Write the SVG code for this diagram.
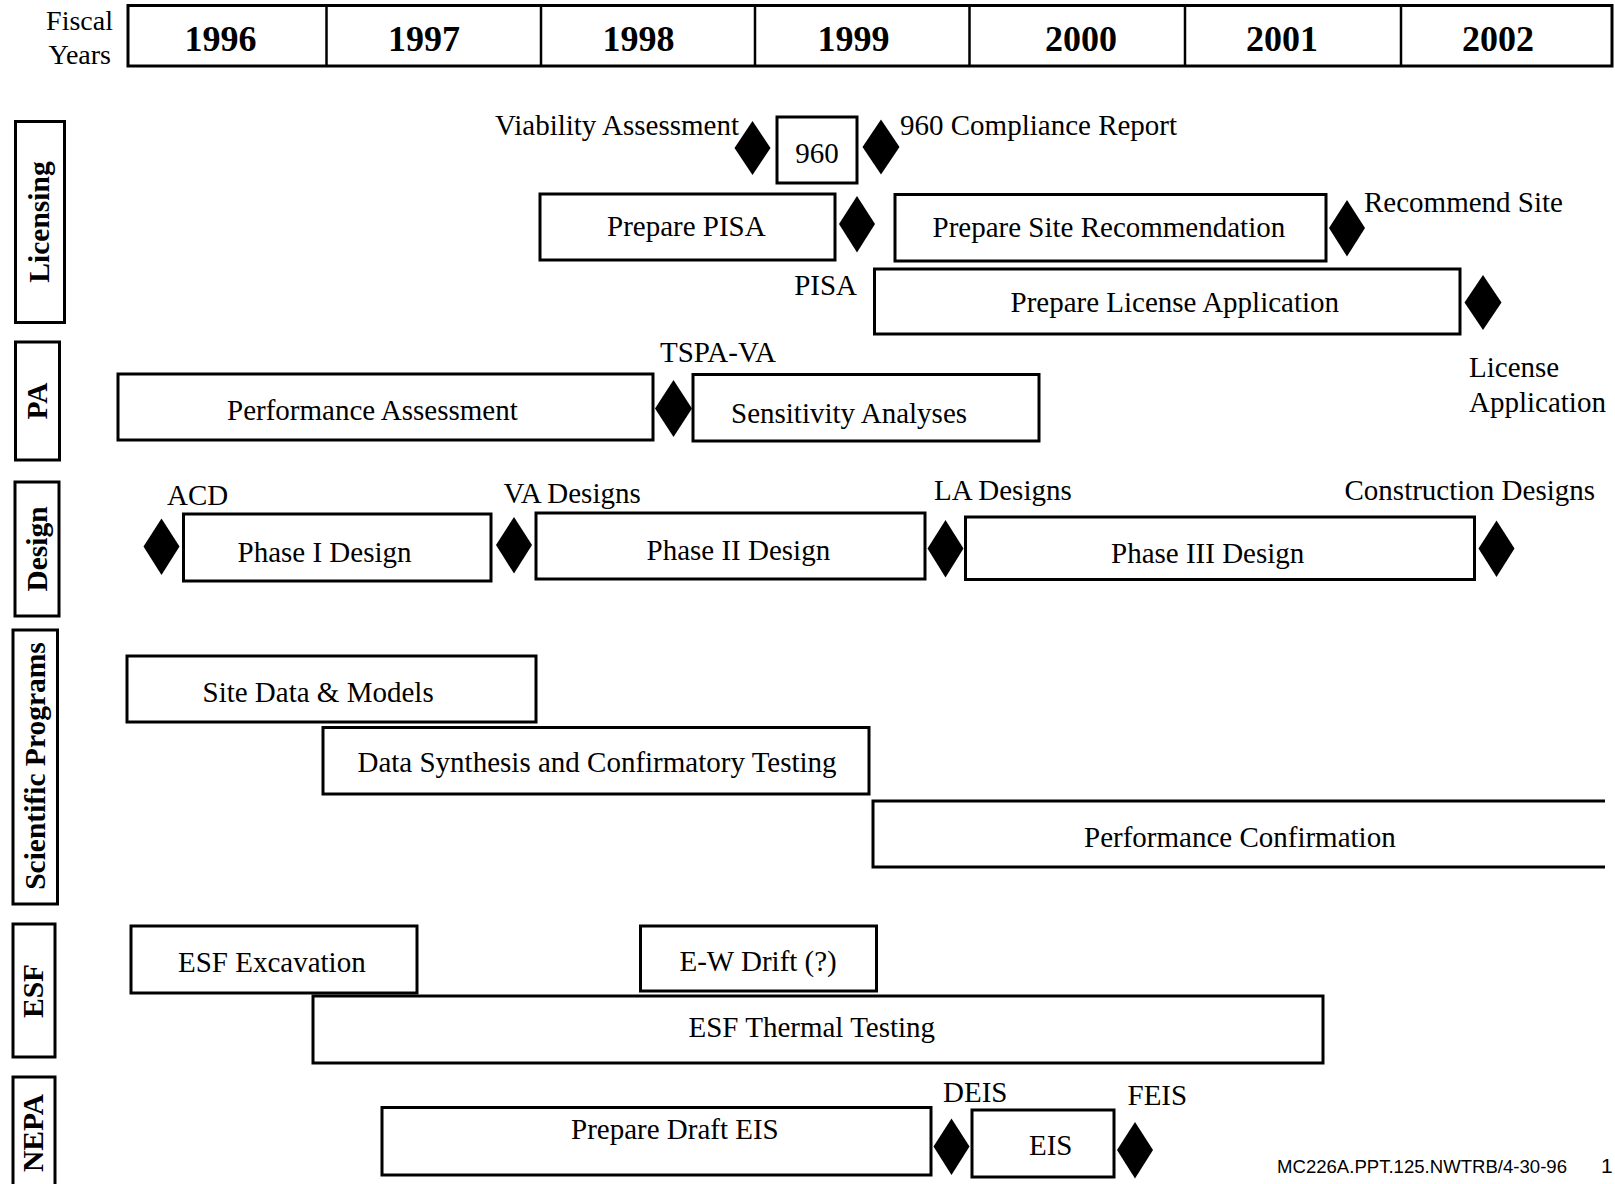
<svg xmlns="http://www.w3.org/2000/svg" width="1615" height="1184" viewBox="0 0 1615 1184">
<style>
  .bar { fill: #fff; stroke: #000; stroke-width: 3; }
  .lane { fill: #fff; stroke: #000; stroke-width: 3; }
  .ms { fill: #000; stroke: none; }
  .t { font-family: "Liberation Serif", "Times New Roman", serif; font-size: 29px; fill: #000; }
  .yr { font-family: "Liberation Serif", "Times New Roman", serif; font-size: 36px; font-weight: bold; fill: #000; text-anchor: middle; }
  .lt { font-family: "Liberation Serif", "Times New Roman", serif; font-size: 29.5px; font-weight: bold; fill: #000; text-anchor: middle; }
  .ft { font-family: "Liberation Sans", Arial, sans-serif; font-size: 18px; fill: #000; }
</style>
<rect x="0" y="0" width="1615" height="1184" fill="#fff"/>

<g id="header">
  <text class="t" x="113" y="30" text-anchor="end" style="font-size:28px">Fiscal</text>
  <text class="t" x="111" y="64" text-anchor="end" style="font-size:28px">Years</text>
  <rect x="128" y="5.5" width="1484" height="60.5" fill="#fff" stroke="#000" stroke-width="3"/>
  <g stroke="#000" stroke-width="2.5">
    <line x1="326.5" y1="5.5" x2="326.5" y2="66"/>
    <line x1="541" y1="5.5" x2="541" y2="66"/>
    <line x1="755" y1="5.5" x2="755" y2="66"/>
    <line x1="969.5" y1="5.5" x2="969.5" y2="66"/>
    <line x1="1185" y1="5.5" x2="1185" y2="66"/>
    <line x1="1401" y1="5.5" x2="1401" y2="66"/>
  </g>
  <text class="yr" x="220.5" y="51">1996</text>
  <text class="yr" x="424" y="51">1997</text>
  <text class="yr" x="638.5" y="51">1998</text>
  <text class="yr" x="853.5" y="51">1999</text>
  <text class="yr" x="1081" y="51">2000</text>
  <text class="yr" x="1282" y="51">2001</text>
  <text class="yr" x="1498" y="51">2002</text>
</g>

<g id="lane-licensing">
  <rect class="lane" x="15.5" y="121.5" width="49" height="201"/>
  <text class="lt" transform="translate(49,222) rotate(-90)">Licensing</text>
</g>
<g id="lane-pa">
  <rect class="lane" x="15.5" y="342" width="44" height="118"/>
  <text class="lt" transform="translate(47,401) rotate(-90)">PA</text>
</g>
<g id="lane-design">
  <rect class="lane" x="15" y="482" width="44" height="134"/>
  <text class="lt" transform="translate(46.5,549) rotate(-90)">Design</text>
</g>
<g id="lane-scientific">
  <rect class="lane" x="13" y="630" width="44.5" height="274"/>
  <text class="lt" transform="translate(44.5,766) rotate(-90)">Scientific Programs</text>
</g>
<g id="lane-esf">
  <rect class="lane" x="13" y="924" width="42" height="133"/>
  <text class="lt" transform="translate(43,991) rotate(-90)">ESF</text>
</g>
<g id="lane-nepa">
  <rect class="lane" x="13" y="1077" width="42" height="130"/>
  <text class="lt" transform="translate(43,1133) rotate(-90)">NEPA</text>
</g>

<g id="connectors"></g>

<!-- Licensing -->
<g id="ms-viability">
  <polygon class="ms" points="752.5,121 770.5,148 752.5,175 734.5,148"/>
  <text class="t" x="495" y="135">Viability Assessment</text>
</g>
<g id="bar-960">
  <rect class="bar" x="777" y="117" width="80" height="66"/>
  <text class="t" x="817" y="163" text-anchor="middle">960</text>
</g>
<g id="ms-960-compliance">
  <polygon class="ms" points="881,119.5 899.5,147 881,174.5 862.5,147"/>
  <text class="t" x="900" y="135">960 Compliance Report</text>
</g>
<g id="bar-prepare-pisa">
  <rect class="bar" x="540" y="194" width="295" height="66"/>
  <text class="t" x="607" y="236">Prepare PISA</text>
</g>
<g id="ms-pisa">
  <polygon class="ms" points="857,196 875,224 857,252.5 839,224"/>
  <text class="t" x="857" y="295" text-anchor="end">PISA</text>
</g>
<g id="bar-site-recommendation">
  <rect class="bar" x="895" y="194.5" width="431" height="66.5"/>
  <text class="t" x="932.5" y="237">Prepare Site Recommendation</text>
</g>
<g id="ms-recommend-site">
  <polygon class="ms" points="1347,200 1365,228 1347,256.5 1329,228"/>
  <text class="t" x="1364" y="212">Recommend Site</text>
</g>
<g id="bar-license-application">
  <rect class="bar" x="874.5" y="269" width="585.5" height="65"/>
  <text class="t" x="1010.5" y="312">Prepare License Application</text>
</g>
<g id="ms-license-application">
  <polygon class="ms" points="1483,275 1501.5,302.5 1483,330 1464.5,302.5"/>
  <text class="t" x="1469" y="377">License</text>
  <text class="t" x="1469" y="412">Application</text>
</g>

<!-- PA -->
<g id="bar-performance-assessment">
  <rect class="bar" x="118" y="374" width="535" height="66"/>
  <text class="t" x="227" y="420">Performance Assessment</text>
</g>
<g id="ms-tspa-va">
  <polygon class="ms" points="673.5,380 692,408.5 673.5,437 655,408.5"/>
  <text class="t" x="660" y="362">TSPA-VA</text>
</g>
<g id="bar-sensitivity">
  <rect class="bar" x="693" y="374.5" width="346" height="66.5"/>
  <text class="t" x="731" y="423">Sensitivity Analyses</text>
</g>

<!-- Design -->
<g id="ms-acd">
  <polygon class="ms" points="161.5,518.5 179.5,546.5 161.5,575 143.5,546.5"/>
  <text class="t" x="167" y="505">ACD</text>
</g>
<g id="bar-phase1">
  <rect class="bar" x="183.5" y="514" width="307.5" height="67"/>
  <text class="t" x="237.5" y="562">Phase I Design</text>
</g>
<g id="ms-va-designs">
  <polygon class="ms" points="514,517 532,545 514,573.5 496,545"/>
  <text class="t" x="503.5" y="503">VA Designs</text>
</g>
<g id="bar-phase2">
  <rect class="bar" x="536" y="513" width="389" height="66"/>
  <text class="t" x="646.5" y="560">Phase II Design</text>
</g>
<g id="ms-la-designs">
  <polygon class="ms" points="945.5,520 963.5,548.5 945.5,577.5 927.5,548.5"/>
  <text class="t" x="934" y="500">LA Designs</text>
</g>
<g id="bar-phase3">
  <rect class="bar" x="965.5" y="517" width="509" height="62.5"/>
  <text class="t" x="1111" y="563">Phase III Design</text>
</g>
<g id="ms-construction-designs">
  <polygon class="ms" points="1496.5,520.5 1514.5,548.5 1496.5,577 1478.5,548.5"/>
  <text class="t" x="1344.5" y="500">Construction Designs</text>
</g>

<!-- Scientific Programs -->
<g id="bar-site-data">
  <rect class="bar" x="127" y="656" width="409" height="66"/>
  <text class="t" x="202.5" y="702">Site Data &amp; Models</text>
</g>
<g id="bar-data-synthesis">
  <rect class="bar" x="323" y="727.5" width="546" height="66.5"/>
  <text class="t" x="357.5" y="772">Data Synthesis and Confirmatory Testing</text>
</g>
<g id="bar-performance-confirmation">
  <path d="M1605,801 H873 V867 H1605" fill="#fff" stroke="#000" stroke-width="3"/>
  <text class="t" x="1084" y="847">Performance Confirmation</text>
</g>

<!-- ESF -->
<g id="bar-esf-excavation">
  <rect class="bar" x="131" y="926" width="286" height="67"/>
  <text class="t" x="178" y="972">ESF Excavation</text>
</g>
<g id="bar-ew-drift">
  <rect class="bar" x="640.5" y="926" width="236" height="65"/>
  <text class="t" x="679.5" y="971">E-W Drift (?)</text>
</g>
<g id="bar-esf-thermal">
  <rect class="bar" x="313" y="996" width="1010" height="67"/>
  <text class="t" x="688.5" y="1037">ESF Thermal Testing</text>
</g>

<!-- NEPA -->
<g id="bar-draft-eis">
  <rect class="bar" x="382" y="1107.5" width="549" height="67.5"/>
  <text class="t" x="571" y="1138.5">Prepare Draft EIS</text>
</g>
<g id="ms-deis">
  <polygon class="ms" points="951.5,1118.5 969.5,1146.5 951.5,1175 933.5,1146.5"/>
  <text class="t" x="943" y="1102">DEIS</text>
</g>
<g id="bar-eis">
  <rect class="bar" x="972" y="1110" width="142" height="67"/>
  <text class="t" x="1029" y="1155">EIS</text>
</g>
<g id="ms-feis">
  <polygon class="ms" points="1135,1122 1153,1150 1135,1178.5 1117,1150"/>
  <text class="t" x="1127.5" y="1105">FEIS</text>
</g>

<g id="footer">
  <text class="ft" x="1277" y="1172.5" textLength="290" lengthAdjust="spacingAndGlyphs">MC226A.PPT.125.NWTRB/4-30-96</text>
  <text class="ft" x="1601" y="1172.5" style="font-size:21px">1</text>
</g>
</svg>
